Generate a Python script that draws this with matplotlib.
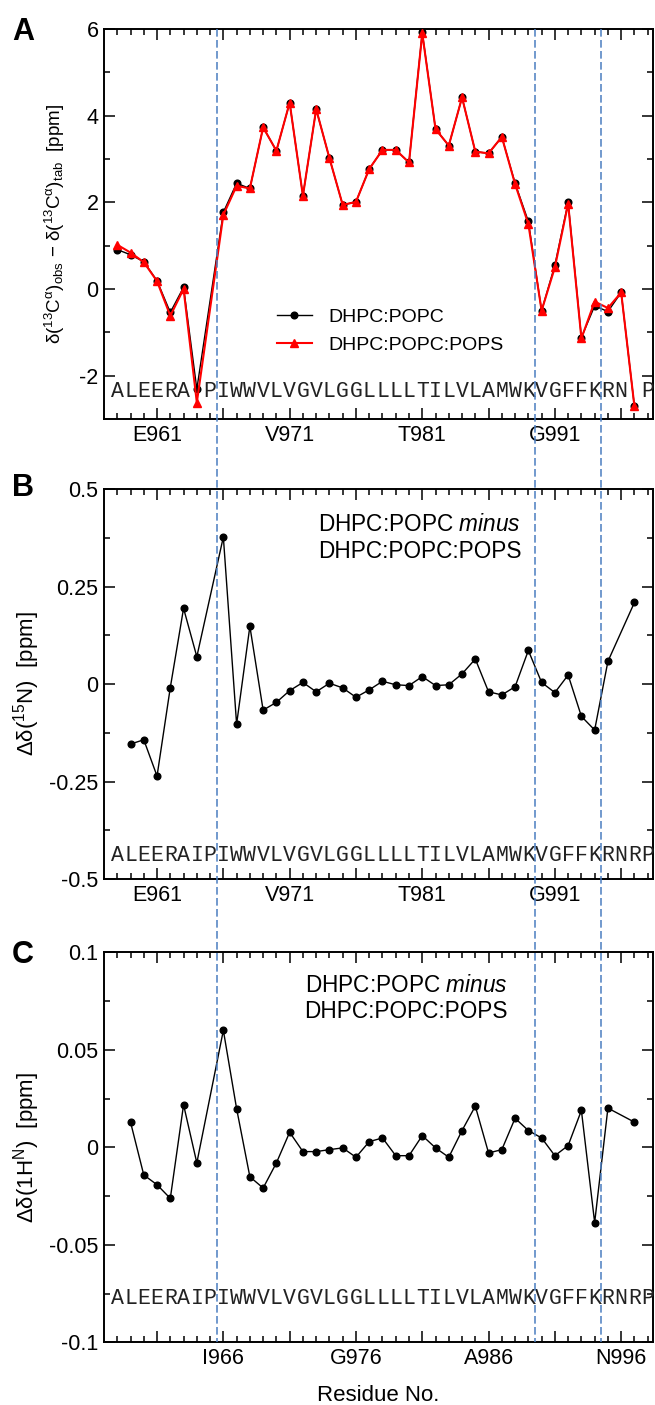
import numpy as np
import matplotlib
matplotlib.use('Agg')
import matplotlib.pyplot as plt
from matplotlib.lines import Line2D
from matplotlib.ticker import FixedLocator, FixedFormatter
from matplotlib.transforms import blended_transform_factory

plt.rcParams['font.family'] = ['Liberation Sans', 'DejaVu Sans']
plt.rcParams['mathtext.fontset'] = 'custom'
plt.rcParams['mathtext.rm'] = 'Liberation Sans'
plt.rcParams['mathtext.it'] = 'Liberation Sans:italic'
plt.rcParams['mathtext.default'] = 'regular'
plt.rcParams['axes.unicode_minus'] = False

# ---- data ----
res_a = [958, 959, 960, 961, 962, 963, 964, 966, 967, 968, 969, 970, 971, 972, 973,
         974, 975, 976, 977, 978, 979, 980, 981, 982, 983, 984, 985, 986, 987, 988,
         989, 990, 991, 992, 993, 994, 995, 996, 997]
ca_popc = [0.91, 0.79, 0.63, 0.19, -0.54, 0.04, -2.31, 1.77, 2.44, 2.32, 3.73, 3.19, 4.30,
           2.15, 4.15, 3.02, 1.94, 2.01, 2.77, 3.21, 3.21, 2.92, 5.92, 3.69, 3.31, 4.42,
           3.17, 3.13, 3.51, 2.44, 1.56, -0.50, 0.55, 2.00, -1.12, -0.39, -0.52, -0.08, -2.71]
ca_pops = [1.02, 0.84, 0.62, 0.18, -0.62, 0.00, -2.62, 1.71, 2.38, 2.32, 3.73, 3.19, 4.30,
           2.15, 4.15, 3.02, 1.94, 2.01, 2.77, 3.21, 3.21, 2.92, 5.90, 3.69, 3.31, 4.42,
           3.17, 3.13, 3.51, 2.42, 1.50, -0.50, 0.50, 1.97, -1.14, -0.29, -0.44, -0.08, -2.71]

res_bc = [959, 960, 961, 962, 963, 964, 966, 967, 968, 969, 970, 971, 972, 973, 974,
          975, 976, 977, 978, 979, 980, 981, 982, 983, 984, 985, 986, 987, 988, 989,
          990, 991, 992, 993, 994, 995, 997]
d_n = [-0.154, -0.143, -0.236, -0.009, 0.194, 0.070, 0.377, -0.103, 0.148, -0.067, -0.047,
       -0.017, 0.004, -0.020, 0.002, -0.010, -0.034, -0.015, 0.007, -0.002, -0.004, 0.019,
       -0.004, -0.002, 0.026, 0.064, -0.020, -0.028, -0.007, 0.086, 0.004, -0.022, 0.023,
       -0.083, -0.118, 0.058, 0.209]
d_h = [0.0129, -0.0142, -0.0192, -0.0262, 0.0218, -0.0080, 0.0600, 0.0198, -0.0151,
       -0.0209, -0.0080, 0.0077, -0.0022, -0.0022, -0.0012, -0.0003, -0.0051, 0.0029,
       0.0048, -0.0043, -0.0043, 0.0060, -0.0003, -0.0051, 0.0086, 0.0211, -0.0029,
       -0.0012, 0.0149, 0.0086, 0.0048, -0.0043, 0.0009, 0.0189, -0.0386, 0.0201, 0.0129]

first_res = 958
seq_a = "ALEERA PIWWVLVGVLGGLLLLTILVLAMWKVGFFKRN P"
seq_bc = "ALEERAIPIWWVLVGVLGGLLLLTILVLAMWKVGFFKRNRP"
boundaries = [965.5, 989.5, 994.5]

major_res = list(range(961, 999, 5))
minor_res = list(range(958, 999))
labels_ab = {961: 'E961', 971: 'V971', 981: 'T981', 991: 'G991'}
labels_c = {966: 'I966', 976: 'G976', 986: 'A986', 996: 'N996'}

# ---- figure ----
W, H = 655, 1405
fig = plt.figure(figsize=(W / 100, H / 100), dpi=100)

left = 104 / W
width = (653 - 104) / W

def px_axes(top, bottom):
    return fig.add_axes([left, 1 - bottom / H, width, (bottom - top) / H])

ax1 = px_axes(29, 419)
ax2 = px_axes(489, 879)
ax3 = px_axes(952.3, 1342.3)

def style(ax, yticks, ylabels, yminor, xlabels, ylim):
    ax.set_xlim(957, 998.4)
    ax.set_ylim(*ylim)
    ax.xaxis.set_major_locator(FixedLocator(major_res))
    ax.xaxis.set_major_formatter(FixedFormatter([xlabels.get(r, '') for r in major_res]))
    ax.xaxis.set_minor_locator(FixedLocator(minor_res))
    ax.yaxis.set_major_locator(FixedLocator(yticks))
    ax.yaxis.set_major_formatter(FixedFormatter(ylabels))
    ax.yaxis.set_minor_locator(FixedLocator(yminor))
    ax.tick_params(which='both', direction='in', top=True, right=True, width=1.1)
    ax.tick_params(which='major', length=8, labelsize=15.5, pad=4)
    ax.tick_params(which='minor', length=4.5)
    for s in ax.spines.values():
        s.set_linewidth(1.4)

style(ax1, [-2, 0, 2, 4, 6], ['-2', '0', '2', '4', '6'], [-3, -1, 1, 3, 5], labels_ab, (-3, 6))
style(ax2, [-0.5, -0.25, 0, 0.25, 0.5], ['-0.5', '-0.25', '0', '0.25', '0.5'],
      [-0.375, -0.125, 0.125, 0.375], labels_ab, (-0.5, 0.5))
style(ax3, [-0.1, -0.05, 0, 0.05, 0.1], ['-0.1', '-0.05', '0', '0.05', '0.1'],
      [-0.075, -0.025, 0.025, 0.075], labels_c, (-0.1, 0.1))

# panel A
ax1.plot(res_a, ca_popc, color='black', lw=1.0, marker='o', ms=4.8, label='DHPC:POPC', zorder=3)
ax1.plot(res_a, ca_pops, color='red', lw=1.5, marker='^', ms=5.2, label='DHPC:POPC:POPS', zorder=4)
ax1.legend(loc='upper left', bbox_to_anchor=(0.315, 0.283), frameon=False, fontsize=14,
           handlelength=1.8, handletextpad=0.85, borderpad=0, borderaxespad=0,
           labelspacing=0.5)
ax1.set_ylabel('δ($^{13}$C$^{α}$)$_{obs}$ − δ($^{13}$C$^{α}$)$_{tab}$  [ppm]', fontsize=13.5)
ax1.yaxis.set_label_coords(-0.067, 0.5)

# panel B
ax2.plot(res_bc, d_n, color='black', lw=1.0, marker='o', ms=4.8)
ax2.text(980.8, 0.375, 'DHPC:POPC $\\mathit{minus}$\nDHPC:POPC:POPS', fontsize=16.3,
         ha='center', va='center', linespacing=1.2)
ax2.set_ylabel('Δδ($^{15}$N)  [ppm]', fontsize=16)
ax2.yaxis.set_label_coords(-0.113, 0.5)

# panel C
ax3.plot(res_bc, d_h, color='black', lw=1.0, marker='o', ms=4.8)
ax3.text(979.8, 0.0763, 'DHPC:POPC $\\mathit{minus}$\nDHPC:POPC:POPS', fontsize=16.3,
         ha='center', va='center', linespacing=1.2)
ax3.set_ylabel('Δδ(1H$^{N}$)  [ppm]', fontsize=16)
ax3.yaxis.set_label_coords(-0.113, 0.5)
ax3.set_xlabel('Residue No.', fontsize=16)
ax3.xaxis.set_label_coords(0.5, -0.11)

# sequence letters at residue positions
for ax, seq, yb in [(ax1, seq_a, -2.50), (ax2, seq_bc, -0.4526), (ax3, seq_bc, -0.0802)]:
    for i, ch in enumerate(seq):
        if ch != ' ':
            ax.text(first_res + i, yb, ch, family='Liberation Mono', fontsize=15.5,
                    ha='center', va='baseline', color='#222222')

# dashed boundaries running through all panels
top_f = 1 - 29 / H
bot_f = 1 - 1342.3 / H
tr = blended_transform_factory(ax1.transData, fig.transFigure)
for xb in boundaries:
    fig.add_artist(Line2D([xb, xb], [top_f, bot_f], transform=tr, color='#4a7dc0',
                          lw=1.1, linestyle=(0, (5, 2.2))))

# panel letters
for lab, yp in [('A', 32), ('B', 488), ('C', 955)]:
    fig.text(12 / W, 1 - yp / H, lab, fontsize=22, fontweight='bold', ha='left', va='center')

fig.savefig('out.png', dpi=100)
